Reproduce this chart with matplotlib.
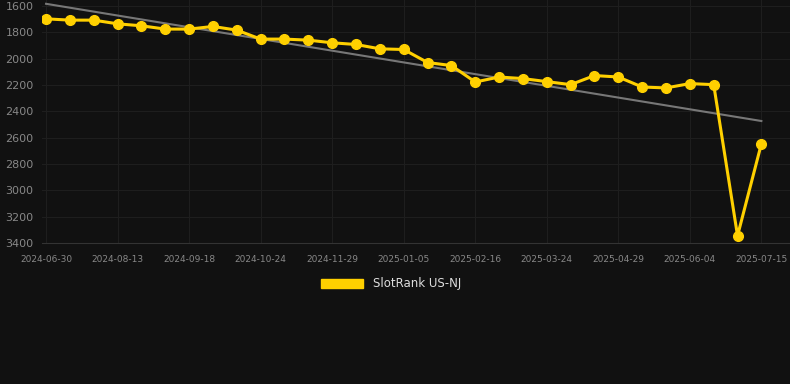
import matplotlib
matplotlib.use("Agg")
import matplotlib.pyplot as plt
import numpy as np
from matplotlib.patches import Patch

tick_labels = ["2024-06-30", "2024-08-13", "2024-09-18", "2024-10-24", "2024-11-29",
               "2025-01-05", "2025-02-16", "2025-03-24", "2025-04-29", "2025-06-04", "2025-07-15"]
ranks = [1697, 1707, 1707, 1735, 1750, 1775, 1775, 1755, 1783, 1851,
         1851, 1859, 1879, 1892, 1925, 1930, 2029, 2052, 2177, 2139,
         2151, 2174, 2197, 2128, 2139, 2215, 2222, 2189, 2197, 3345, 2646]
y_ticks = [1600, 1800, 2000, 2200, 2400, 2600, 2800, 3000, 3200, 3400]

bg = "#111111"
fig = plt.figure(figsize=(7.9, 3.84), dpi=100, facecolor=bg)
ax = fig.add_axes([42/790, 1 - 243/384, (790-42)/790, 243/384])
ax.set_facecolor(bg)

x = np.arange(len(ranks))
coef = np.polyfit(x, ranks, 1)
ax.plot(x, np.polyval(coef, x), color="#777777", lw=1.5, zorder=2)
ax.plot(x, ranks, color="#FFD000", lw=2.2, marker="o", markersize=7, zorder=3)

ax.set_ylim(3400, 1554)
ax.set_xlim(-0.17, 31.2)
ax.set_yticks(y_ticks)
ax.set_xticks(x[::3])
ax.set_xticklabels(tick_labels)
ax.grid(True, color="#1e1e1e", lw=0.8)
for s in ["top", "right", "left"]:
    ax.spines[s].set_visible(False)
ax.spines["bottom"].set_color("#333333")
ax.tick_params(axis="both", length=0, colors="#888888")
ax.tick_params(axis="y", labelsize=8, pad=6)
ax.tick_params(axis="x", labelsize=6.5, pad=9)

leg = fig.legend(handles=[Patch(facecolor="#FFD000", edgecolor="#FFD000", label="SlotRank US-NJ")],
                 loc="center", bbox_to_anchor=(391/790, 1 - 284/384), frameon=False,
                 fontsize=8.5, handlelength=3.6, handleheight=0.9, labelcolor="#dddddd")
fig.savefig("out.png", dpi=100, facecolor=bg)
